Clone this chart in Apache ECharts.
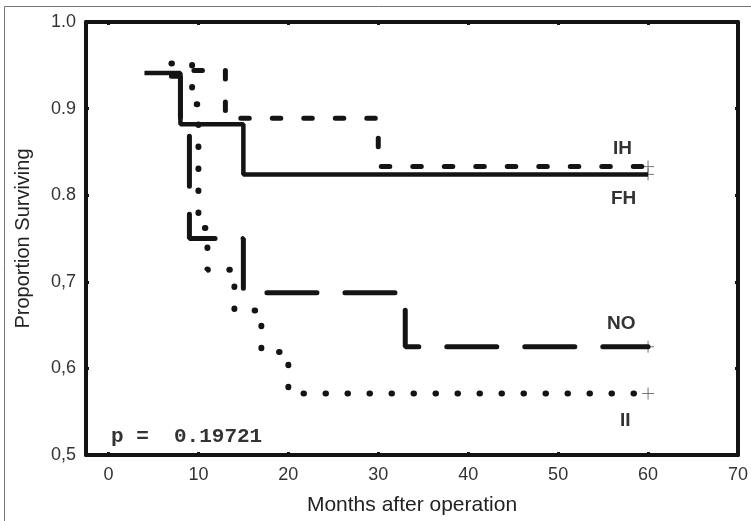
<!DOCTYPE html>
<html>
<head>
<meta charset="utf-8">
<script src="https://cdn.jsdelivr.net/npm/echarts@6/dist/echarts.min.js"></script>
<style>
html,body{margin:0;padding:0;background:#fff;}
#chart{width:751px;height:521px;}
</style>
</head>
<body>
<div id="chart"></div>
<script>
// ---- data ----
const xTickValues = [0, 10, 20, 30, 40, 50, 60, 70];
const yTickValues = [0.5, 0.6, 0.7, 0.8, 0.9, 1.0];
const yTickLabels = ['0,5', '0,6', '0,7', '0.8', '0.9', '1.0'];

const fhTimes = [4, 8, 15, 60];
const fhValues = [0.941, 0.882, 0.824, 0.824];

const ihTimes = [9.5, 13, 30, 60];
const ihValues = [0.944, 0.889, 0.833, 0.833];

const noTimes = [7, 8, 9, 15, 33, 60];
const noValues = [0.9375, 0.875, 0.75, 0.6875, 0.625, 0.625];

const iiTimes = [7, 9.3, 10, 11, 14, 17, 20, 60];
const iiValues = [0.952, 0.905, 0.762, 0.714, 0.667, 0.619, 0.571, 0.571];

const censorTimes = [60, 60, 60, 60];
const censorValues = [0.833, 0.824, 0.625, 0.571];

const groupNames = ['IH', 'FH', 'NO', 'II'];
const pText = 'p =  0.19721';

function zip(a, b) { return a.map((v, i) => [v, b[i]]); }

const ink = '#141414';
const chart = echarts.init(document.getElementById('chart'), null, {renderer: 'canvas'});

const option = {
  backgroundColor: '#fff',
  animation: false,
  grid: {left: 86, right: 10, top: 22, bottom: 66, containLabel: false},
  xAxis: [
    {
      type: 'value', min: -2.5, max: 70, position: 'bottom',
      name: 'Months after operation', nameLocation: 'middle', nameGap: 40,
      nameTextStyle: {fontFamily: 'Liberation Sans, Arial', fontSize: 21, color: '#222'},
      axisLine: {show: true, onZero: false, lineStyle: {color: ink, width: 4}},
      axisTick: {show: true, inside: true, length: 3, lineStyle: {color: ink, width: 3}, customValues: xTickValues},
      axisLabel: {show: true, margin: 11, fontFamily: 'Liberation Sans, Arial', fontSize: 18, color: '#333', customValues: xTickValues, showMinLabel: true, showMaxLabel: true},
      splitLine: {show: false}
    },
    {
      type: 'value', min: -2.5, max: 70, position: 'top',
      axisLine: {show: true, onZero: false, lineStyle: {color: ink, width: 4}},
      axisTick: {show: true, inside: true, length: 3, lineStyle: {color: ink, width: 3}, customValues: xTickValues},
      axisLabel: {show: false},
      splitLine: {show: false}
    }
  ],
  yAxis: [
    {
      type: 'value', min: 0.5, max: 1.0, position: 'left',
      name: 'Proportion Surviving', nameLocation: 'middle', nameGap: 53, nameRotate: 90,
      nameTextStyle: {fontFamily: 'Liberation Sans, Arial', fontSize: 20, color: '#222'},
      axisLine: {show: true, onZero: false, lineStyle: {color: ink, width: 4}},
      axisTick: {show: true, inside: true, length: 3, lineStyle: {color: ink, width: 3}, customValues: yTickValues},
      axisLabel: {
        show: true, margin: 10, fontFamily: 'Liberation Sans, Arial', fontSize: 18, color: '#333',
        customValues: yTickValues,
        formatter: function (v) {
          const i = yTickValues.findIndex(t => Math.abs(t - v) < 1e-6);
          return i >= 0 ? yTickLabels[i] : '';
        }
      },
      splitLine: {show: false}
    },
    {
      type: 'value', min: 0.5, max: 1.0, position: 'right',
      axisLine: {show: true, onZero: false, lineStyle: {color: ink, width: 4}},
      axisTick: {show: true, inside: true, length: 3, lineStyle: {color: ink, width: 3}, customValues: yTickValues},
      axisLabel: {show: false},
      splitLine: {show: false}
    }
  ],
  series: [
    {
      name: 'FH', type: 'line', step: 'end', showSymbol: false, symbol: 'none',
      data: zip(fhTimes, fhValues),
      lineStyle: {color: ink, width: 4.5, type: 'solid', cap: 'butt'}
    },
    {
      name: 'IH', type: 'line', step: 'end', showSymbol: false, symbol: 'none',
      data: zip(ihTimes, ihValues),
      lineStyle: {color: ink, width: 5, type: [8.5, 23], cap: 'round'}
    },
    {
      name: 'NO', type: 'line', step: 'end', showSymbol: false, symbol: 'none',
      data: zip(noTimes, noValues),
      lineStyle: {color: ink, width: 5, type: [50, 28], cap: 'round'}
    },
    {
      name: 'II', type: 'line', step: 'end', showSymbol: false, symbol: 'none',
      data: zip(iiTimes, iiValues),
      lineStyle: {color: ink, width: 6, type: [0.5, 21.5], cap: 'round'}
    },
    {
      name: 'censored', type: 'scatter',
      data: zip(censorTimes, censorValues),
      symbol: 'path://M0,5L10,5M5,0L5,10',
      symbolSize: 12,
      itemStyle: {color: 'rgba(0,0,0,0)', borderColor: '#555', borderWidth: 1},
      silent: true
    }
  ],
  graphic: [
    {type: 'rect', shape: {x: 4.5, y: 6.5, width: 800, height: 600}, style: {fill: 'none', stroke: '#777', lineWidth: 1}, silent: true},
    {type: 'text', left: 613, top: 139, style: {text: groupNames[0], font: 'bold 19px "Liberation Sans", Arial', fill: '#333'}},
    {type: 'text', left: 611, top: 189, style: {text: groupNames[1], font: 'bold 19px "Liberation Sans", Arial', fill: '#333'}},
    {type: 'text', left: 607, top: 314, style: {text: groupNames[2], font: 'bold 19px "Liberation Sans", Arial', fill: '#333'}},
    {type: 'text', left: 620, top: 411, style: {text: groupNames[3], font: 'bold 19px "Liberation Sans", Arial', fill: '#333'}},
    {type: 'text', left: 111, top: 426, style: {text: pText, font: 'bold 21px "Liberation Mono", monospace', fill: '#333'}}
  ]
};
chart.setOption(option);
</script>
</body>
</html>
